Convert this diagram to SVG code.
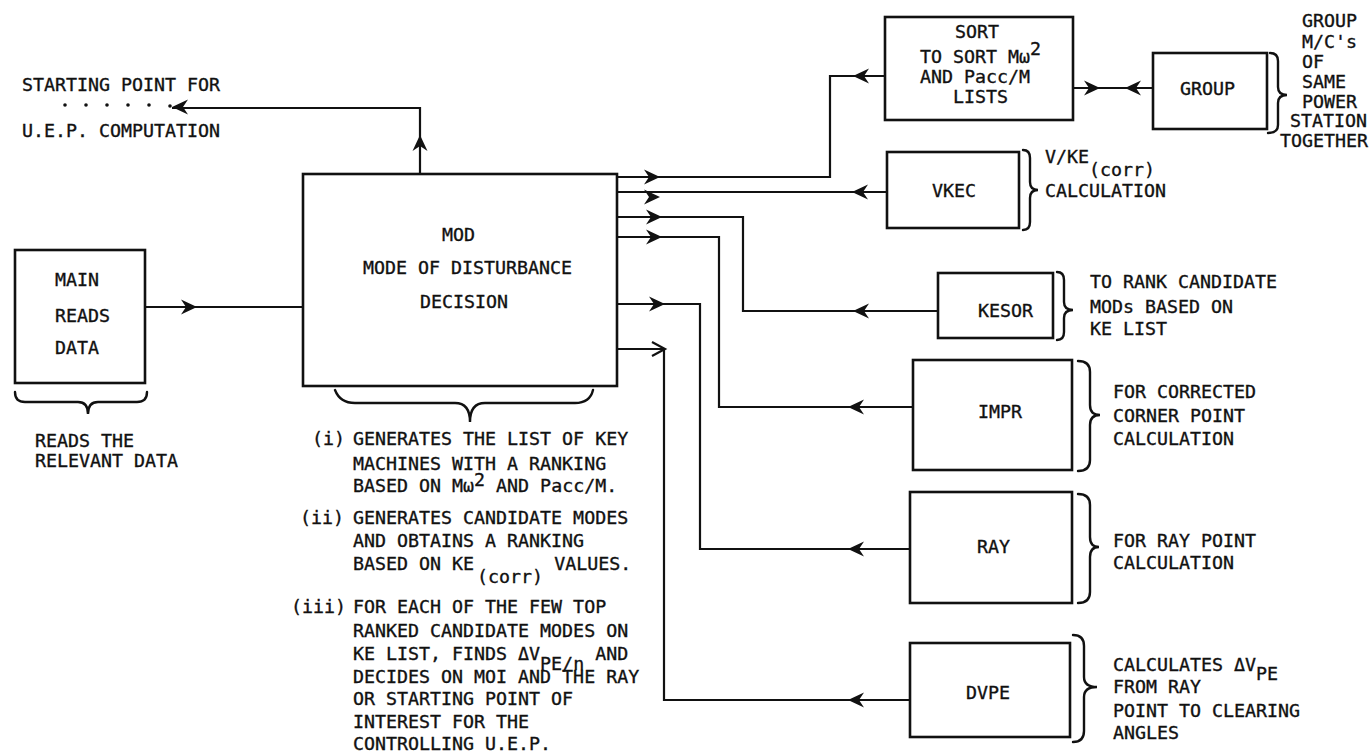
<svg xmlns="http://www.w3.org/2000/svg" xmlns:xlink="http://www.w3.org/1999/xlink" width="1369" height="754" viewBox="0 0 1369 754">
<style>
  .t { font-family: "DejaVu Sans Mono", "Liberation Mono", monospace; font-size: 18.3px; fill: #111; stroke: #111; stroke-width: 0.35; }
  .box { fill: none; stroke: #111; stroke-width: 2.6; }
  .ln { fill: none; stroke: #111; stroke-width: 2.2; }
  .br { fill: none; stroke: #111; stroke-width: 2.4; stroke-linecap: round; }
  .ah { fill: #111; }
</style>
<defs>
  <path id="ah" d="M0,0 L-16,-7.5 L-11,0 L-16,7.5 Z"/>
  <path id="aho" d="M-13,-7 L0,0 L-13,7" fill="none" stroke="#111" stroke-width="2.2"/>
</defs>
<rect width="1369" height="754" fill="#fff"/>

<g id="start-label">
  <text class="t" x="22" y="91">STARTING POINT FOR</text>
  <text class="t" x="22" y="137">U.E.P. COMPUTATION</text>
  <g fill="#111">
    <circle cx="65" cy="105" r="1.8"/><circle cx="86" cy="105" r="1.8"/><circle cx="107" cy="105" r="1.8"/>
    <circle cx="128" cy="105" r="1.8"/><circle cx="149" cy="105" r="1.8"/><circle cx="170" cy="106" r="1.8"/>
  </g>
</g>

<g id="main">
  <rect class="box" x="15" y="250" width="130" height="133"/>
  <text class="t" x="55" y="286">MAIN</text>
  <text class="t" x="55" y="322">READS</text>
  <text class="t" x="55" y="354">DATA</text>
  <path class="br" d="M15,392 Q15,402 25,402 L78,402 Q88,402 88,414 Q88,402 98,402 L137,402 Q147,402 147,392"/>
  <text class="t" x="35" y="447">READS THE</text>
  <text class="t" x="35" y="467">RELEVANT DATA</text>
</g>

<g id="mod">
  <rect class="box" x="303" y="174" width="314" height="212"/>
  <text class="t" x="442" y="241">MOD</text>
  <text class="t" x="363" y="274">MODE OF DISTURBANCE</text>
  <text class="t" x="420" y="308">DECISION</text>
  <path class="br" d="M335,390 Q340,403 355,403 L455,403 Q470,403 470,422 Q470,403 485,403 L575,403 Q590,403 593,390"/>
</g>

<g id="mod-notes">
  <text class="t" x="312" y="445">(i)</text>
  <text class="t" x="353" y="445">GENERATES THE LIST OF KEY</text>
  <text class="t" x="353" y="470">MACHINES WITH A RANKING</text>
  <text class="t" x="353" y="492">BASED ON Mω<tspan dy="-6">2</tspan><tspan dy="6"> AND Pacc/M.</tspan></text>
  <text class="t" x="300" y="524">(ii)</text>
  <text class="t" x="353" y="524">GENERATES CANDIDATE MODES</text>
  <text class="t" x="353" y="547">AND OBTAINS A RANKING</text>
  <text class="t" x="353" y="570">BASED ON KE<tspan dy="13" dx="3">(corr)</tspan><tspan dy="-13"> VALUES.</tspan></text>
  <text class="t" x="291" y="613">(iii)</text>
  <text class="t" x="353" y="613">FOR EACH OF THE FEW TOP</text>
  <text class="t" x="353" y="637">RANKED CANDIDATE MODES ON</text>
  <text class="t" x="353" y="660">KE LIST, FINDS ΔV<tspan dy="10">PE/n</tspan><tspan dy="-10"> AND</tspan></text>
  <text class="t" x="353" y="683">DECIDES ON MOI AND THE RAY</text>
  <text class="t" x="353" y="705">OR STARTING POINT OF</text>
  <text class="t" x="353" y="728">INTEREST FOR THE</text>
  <text class="t" x="353" y="750">CONTROLLING U.E.P.</text>
</g>

<g id="sort">
  <rect class="box" x="885" y="17" width="188" height="103"/>
  <text class="t" x="955" y="38">SORT</text>
  <text class="t" x="920" y="63">TO SORT Mω<tspan dy="-8">2</tspan></text>
  <text class="t" x="920" y="83">AND Pacc/M</text>
  <text class="t" x="953" y="103">LISTS</text>
</g>

<g id="group">
  <rect class="box" x="1153" y="53" width="114" height="76"/>
  <text class="t" x="1180" y="95">GROUP</text>
  <path class="br" d="M1270,53 Q1278,53 1278,61 L1278,87 Q1278,95 1287,95 Q1278,95 1278,103 L1278,125 Q1278,133 1268,133"/>
  <text class="t" x="1302" y="27">GROUP</text>
  <text class="t" x="1302" y="48">M/C's</text>
  <text class="t" x="1302" y="68">OF</text>
  <text class="t" x="1302" y="88">SAME</text>
  <text class="t" x="1302" y="108">POWER</text>
  <text class="t" x="1290" y="127">STATION</text>
  <text class="t" x="1280" y="147">TOGETHER</text>
</g>

<g id="vkec">
  <rect class="box" x="887" y="152" width="132" height="76"/>
  <text class="t" x="932" y="197">VKEC</text>
  <path class="br" d="M1023,150 Q1030,150 1030,158 L1030,182 Q1030,190 1038,190 Q1030,190 1030,198 L1030,222 Q1030,230 1023,230"/>
  <text class="t" x="1045" y="163">V/KE<tspan dy="13">(corr)</tspan></text>
  <text class="t" x="1045" y="197">CALCULATION</text>
</g>

<g id="kesor">
  <rect class="box" x="938" y="273" width="115" height="65"/>
  <text class="t" x="978" y="317">KESOR</text>
  <path class="br" d="M1057,272 Q1064,272 1064,280 L1064,302 Q1064,310 1073,310 Q1064,310 1064,318 L1064,332 Q1064,340 1057,340"/>
  <text class="t" x="1090" y="288">TO RANK CANDIDATE</text>
  <text class="t" x="1090" y="313">MODs BASED ON</text>
  <text class="t" x="1090" y="335">KE LIST</text>
</g>

<g id="impr">
  <rect class="box" x="913" y="360" width="159" height="110"/>
  <text class="t" x="978" y="418">IMPR</text>
  <path class="br" d="M1078,361 Q1090,361 1090,372 L1090,405 Q1090,415 1100,415 Q1090,415 1090,425 L1090,460 Q1090,471 1078,471"/>
  <text class="t" x="1113" y="398">FOR CORRECTED</text>
  <text class="t" x="1113" y="422">CORNER POINT</text>
  <text class="t" x="1113" y="445">CALCULATION</text>
</g>

<g id="ray">
  <rect class="box" x="910" y="492" width="162" height="111"/>
  <text class="t" x="977" y="553">RAY</text>
  <path class="br" d="M1078,494 Q1090,494 1090,505 L1090,537 Q1090,547 1099,547 Q1090,547 1090,557 L1090,592 Q1090,603 1078,603"/>
  <text class="t" x="1113" y="547">FOR RAY POINT</text>
  <text class="t" x="1113" y="569">CALCULATION</text>
</g>

<g id="dvpe">
  <rect class="box" x="910" y="643" width="160" height="94"/>
  <text class="t" x="966" y="699">DVPE</text>
  <path class="br" d="M1073,635 Q1084,635 1084,646 L1084,677 Q1084,687 1097,687 Q1084,687 1084,697 L1084,731 Q1084,742 1073,742"/>
  <text class="t" x="1113" y="671">CALCULATES ΔV<tspan dy="9">PE</tspan></text>
  <text class="t" x="1113" y="693">FROM RAY</text>
  <text class="t" x="1113" y="717">POINT TO CLEARING</text>
  <text class="t" x="1113" y="739">ANGLES</text>
</g>

<g id="connectors">
  <path class="ln" d="M145,307 H303"/>
  <path class="ln" d="M420,174 V108 H172"/>
  <path class="ln" d="M617,177 H830 V76 H885"/>
  <path class="ln" d="M617,192 H887"/>
  <path class="ln" d="M617,217 H743 V311 H938"/>
  <path class="ln" d="M617,237 H719 V407 H913"/>
  <path class="ln" d="M617,304 H700 V549 H910"/>
  <path class="ln" d="M617,349 H664 V700 H910"/>
  <path class="ln" d="M1073,88 H1153"/>
  <g class="ah">
    <use xlink:href="#ah" transform="translate(197,307)"/>
    <use xlink:href="#ah" transform="translate(420,135) rotate(-90)"/>
    <use xlink:href="#ah" transform="translate(172,107) rotate(180)"/>
    <use xlink:href="#ah" transform="translate(660,177)"/>
    <use xlink:href="#ah" transform="translate(660,197)"/>
    <use xlink:href="#ah" transform="translate(662,217)"/>
    <use xlink:href="#ah" transform="translate(662,237)"/>
    <use xlink:href="#ah" transform="translate(665,304)"/>
    <use xlink:href="#aho" transform="translate(665,349)"/>
    <use xlink:href="#ah" transform="translate(853,76) rotate(180)"/>
    <use xlink:href="#ah" transform="translate(852,192) rotate(180)"/>
    <use xlink:href="#ah" transform="translate(853,311) rotate(180)"/>
    <use xlink:href="#ah" transform="translate(848,407) rotate(180)"/>
    <use xlink:href="#ah" transform="translate(848,549) rotate(180)"/>
    <use xlink:href="#ah" transform="translate(848,700) rotate(180)"/>
    <use xlink:href="#ah" transform="translate(1100,88)"/>
    <use xlink:href="#ah" transform="translate(1125,88) rotate(180)"/>
  </g>
</g>
</svg>
